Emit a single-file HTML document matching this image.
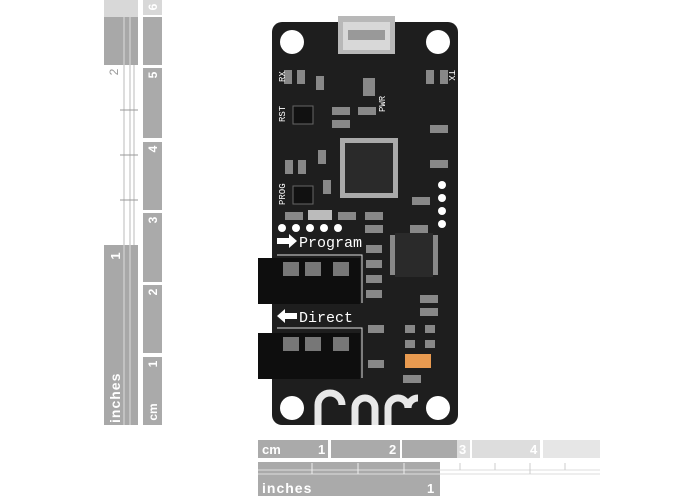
<!DOCTYPE html><html><head><style>body{margin:0;background:#fff}svg{display:block}</style></head><body>
<svg width="700" height="500" xmlns="http://www.w3.org/2000/svg" font-family="Liberation Sans, sans-serif">
<rect width="700" height="500" fill="#fff"/>
<!-- vertical ruler -->
<rect x="104" y="0" width="34" height="17" fill="#d8d8d8"/>
<rect x="104" y="17" width="34" height="48" fill="#a8a8a8"/>
<rect x="104" y="245" width="34" height="180" fill="#a8a8a8"/>
<g stroke="#bbb" stroke-width="1"><line x1="124" y1="65" x2="124" y2="245"/><line x1="130" y1="65" x2="130" y2="245"/><line x1="134" y1="65" x2="134" y2="245"/></g>
<g stroke="#999"><line x1="120" y1="110" x2="138" y2="110"/><line x1="120" y1="155" x2="138" y2="155"/><line x1="120" y1="200" x2="138" y2="200"/></g>
<g stroke="#ddd"><line x1="124" y1="17" x2="124" y2="65"/><line x1="130" y1="17" x2="130" y2="65"/><line x1="124" y1="245" x2="124" y2="425"/><line x1="130" y1="245" x2="130" y2="425"/></g>
<text transform="translate(118,72) rotate(-90)" font-size="12" fill="#999" text-anchor="middle">2</text>
<text transform="translate(120,256) rotate(-90)" font-size="13" fill="#fff" text-anchor="middle" font-weight="bold">1</text>
<text transform="translate(120,423) rotate(-90)" font-size="14" fill="#fff" font-weight="bold" letter-spacing="1">inches</text>
<rect x="143" y="0" width="19" height="15" fill="#d8d8d8"/>
<rect x="143" y="17" width="19" height="48" fill="#aaa"/>
<rect x="143" y="68" width="19" height="70" fill="#aaa"/>
<rect x="143" y="142" width="19" height="68" fill="#aaa"/>
<rect x="143" y="213" width="19" height="69" fill="#aaa"/>
<rect x="143" y="285" width="19" height="68" fill="#aaa"/>
<rect x="143" y="357" width="19" height="68" fill="#aaa"/>
<g fill="#fff" font-size="12" font-weight="bold" text-anchor="middle">
<text transform="translate(157,7) rotate(-90)">6</text>
<text transform="translate(157,75) rotate(-90)">5</text>
<text transform="translate(157,149) rotate(-90)">4</text>
<text transform="translate(157,220) rotate(-90)">3</text>
<text transform="translate(157,292) rotate(-90)">2</text>
<text transform="translate(157,364) rotate(-90)">1</text>
<text transform="translate(157,412) rotate(-90)">cm</text></g>
<!-- horizontal ruler -->
<rect x="258" y="440" width="70" height="18" fill="#aaa"/>
<rect x="331" y="440" width="69" height="18" fill="#aaa"/>
<rect x="402" y="440" width="55" height="18" fill="#aaa"/>
<rect x="457" y="440" width="13" height="18" fill="#ddd"/>
<rect x="472" y="440" width="68" height="18" fill="#ddd"/>
<rect x="543" y="440" width="57" height="18" fill="#e6e6e6"/>
<g fill="#fff" font-size="13" font-weight="bold"><text x="262" y="454">cm</text><text x="318" y="454">1</text><text x="389" y="454">2</text><text x="459" y="454">3</text><text x="530" y="454">4</text></g>
<rect x="258" y="462" width="182" height="16" fill="#aaa"/>
<g stroke="#ddd"><line x1="258" y1="470" x2="600" y2="470"/><line x1="258" y1="474" x2="600" y2="474"/></g>
<g stroke="#eee"><line x1="312" y1="463" x2="312" y2="474"/><line x1="358" y1="463" x2="358" y2="474"/><line x1="404" y1="463" x2="404" y2="474"/></g>
<g stroke="#ccc"><line x1="460" y1="463" x2="460" y2="470"/><line x1="495" y1="463" x2="495" y2="470"/><line x1="530" y1="463" x2="530" y2="474"/><line x1="565" y1="463" x2="565" y2="470"/></g>
<rect x="258" y="478" width="182" height="18" fill="#aaa"/>
<text x="262" y="493" font-size="14" fill="#fff" font-weight="bold" letter-spacing="1">inches</text>
<text x="427" y="493" font-size="13" fill="#fff" font-weight="bold">1</text>
<!-- board -->
<rect x="272" y="22" width="186" height="403" rx="10" fill="#1e1e1e"/>
<g fill="#fff"><circle cx="292" cy="42" r="12"/><circle cx="438" cy="42" r="12"/><circle cx="292" cy="408" r="12"/><circle cx="438" cy="408" r="12"/></g>
<!-- usb -->
<rect x="338" y="16" width="57" height="38" fill="#b8b8b8"/><rect x="343" y="22" width="47" height="28" fill="#d8d8d8"/>
<rect x="348" y="30" width="37" height="10" fill="#999"/>
<!-- chips -->
<rect x="340" y="138" width="58" height="60" fill="#aaa"/>
<rect x="345" y="143" width="48" height="50" fill="#2a2a2a"/>
<rect x="390" y="235" width="48" height="40" fill="#888"/>
<rect x="395" y="233" width="38" height="44" fill="#2a2a2a"/>
<rect x="405" y="354" width="26" height="14" fill="#e89a50"/>
<!-- small parts -->
<g fill="#888">
<rect x="284" y="70" width="8" height="14"/><rect x="297" y="70" width="8" height="14"/><rect x="316" y="76" width="8" height="14"/><rect x="363" y="78" width="12" height="18"/><rect x="426" y="70" width="8" height="14"/><rect x="440" y="70" width="8" height="14"/>
<rect x="332" y="107" width="18" height="8"/><rect x="358" y="107" width="18" height="8"/><rect x="332" y="120" width="18" height="8"/>
<rect x="430" y="125" width="18" height="8"/><rect x="430" y="160" width="18" height="8"/><rect x="285" y="160" width="8" height="14"/><rect x="298" y="160" width="8" height="14"/><rect x="318" y="150" width="8" height="14"/><rect x="323" y="180" width="8" height="14"/>
<rect x="308" y="210" width="24" height="10" fill="#bbb"/><rect x="285" y="212" width="18" height="8"/><rect x="338" y="212" width="18" height="8"/><rect x="365" y="212" width="18" height="8"/><rect x="365" y="225" width="18" height="8"/>
<rect x="412" y="197" width="18" height="8"/><rect x="410" y="225" width="18" height="8"/>
<rect x="366" y="245" width="16" height="8"/><rect x="366" y="260" width="16" height="8"/><rect x="366" y="275" width="16" height="8"/><rect x="366" y="290" width="16" height="8"/>
<rect x="420" y="295" width="18" height="8"/><rect x="420" y="308" width="18" height="8"/><rect x="405" y="325" width="10" height="8"/><rect x="425" y="325" width="10" height="8"/><rect x="405" y="340" width="10" height="8"/><rect x="425" y="340" width="10" height="8"/>
<rect x="368" y="325" width="16" height="8"/><rect x="368" y="360" width="16" height="8"/><rect x="403" y="375" width="18" height="8"/>
</g>
<g fill="#111" stroke="#666"><rect x="293" y="106" width="20" height="18"/><rect x="293" y="186" width="20" height="18"/></g>
<g fill="#fff"><circle cx="442" cy="185" r="4"/><circle cx="442" cy="198" r="4"/><circle cx="442" cy="211" r="4"/><circle cx="442" cy="224" r="4"/><circle cx="282" cy="228" r="4"/><circle cx="296" cy="228" r="4"/><circle cx="310" cy="228" r="4"/><circle cx="324" cy="228" r="4"/><circle cx="338" cy="228" r="4"/></g>
<!-- jacks -->
<rect x="258" y="258" width="102" height="46" fill="#0e0e0e"/>
<rect x="258" y="333" width="102" height="46" fill="#0e0e0e"/>
<g fill="#777"><rect x="283" y="262" width="16" height="14"/><rect x="305" y="262" width="16" height="14"/><rect x="333" y="262" width="16" height="14"/><rect x="283" y="337" width="16" height="14"/><rect x="305" y="337" width="16" height="14"/><rect x="333" y="337" width="16" height="14"/></g>
<g stroke="#ddd" fill="none"><path d="M277 255H362V303"/><path d="M277 328H362V378"/></g>
<g fill="#fff"><path d="M277 238h12v-4l8 7-8 7v-4h-12z"/><path d="M297 313h-12v-4l-8 7 8 7v-4h12z"/></g>
<g fill="#fff" font-family="Liberation Mono, monospace" font-size="15"><text x="299" y="247">Program</text><text x="299" y="322">Direct</text></g>
<g fill="#fff" font-size="9" font-family="Liberation Mono, monospace">
<text transform="translate(285,82) rotate(-90)">RX</text><text transform="translate(449,70) rotate(90)">TX</text>
<text transform="translate(285,122) rotate(-90)">RST</text><text transform="translate(385,112) rotate(-90)">PWR</text><text transform="translate(285,205) rotate(-90)">PROG</text></g>
<!-- logo -->
<g fill="none" stroke="#e8e8e8" stroke-width="7"><path d="M318 425V405a12 12 0 0 1 24 0"/><path d="M355 425V408a10 10 0 0 1 20 0V425"/><path d="M388 425V408a10 10 0 0 1 20 0a10 10 0 0 1 10 -10"/></g>
</svg></body></html>
